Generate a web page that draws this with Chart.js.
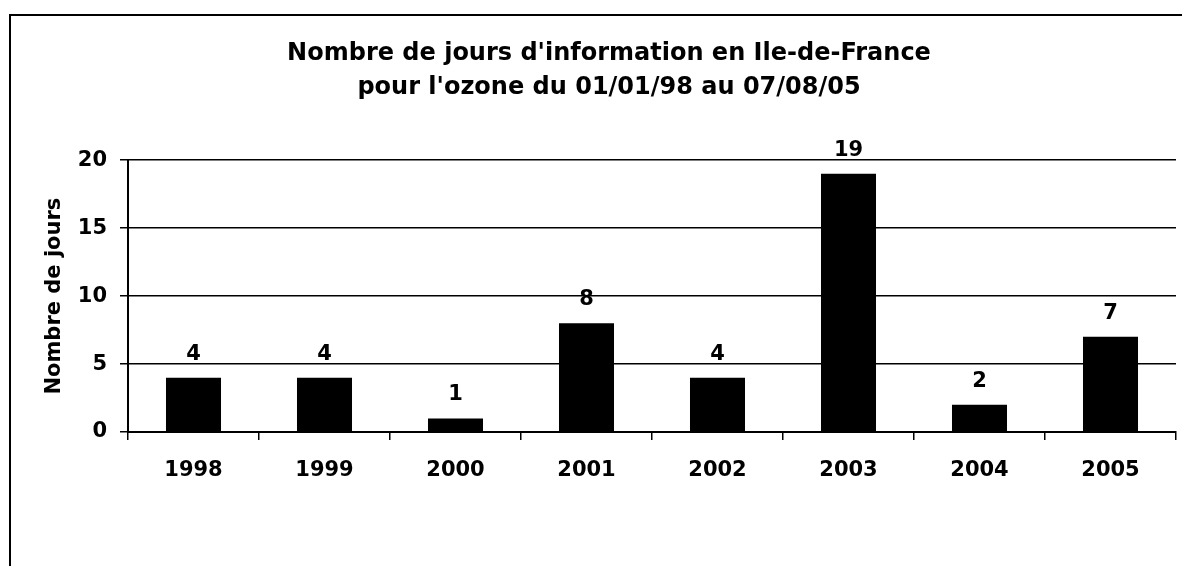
<!DOCTYPE html>
<html>
<head>
<meta charset="utf-8">
<script src="https://cdn.jsdelivr.net/npm/chart.js@4/dist/chart.umd.min.js"></script>
<style>
  html, body { margin: 0; padding: 0; background: #ffffff; }
  #wrap { width: 1182px; height: 566px; }
</style>
</head>
<body>
<div id="wrap"><canvas id="c" width="1182" height="566"></canvas></div>
<script>
const titleLines = ["Nombre de jours d'information en Ile-de-France", "pour l'ozone du 01/01/98 au 07/08/05"];
const yAxisTitle = "Nombre de jours";
const years = ["1998", "1999", "2000", "2001", "2002", "2003", "2004", "2005"];
const daysCount = [4, 4, 1, 8, 4, 19, 2, 7];
const yTicks = [0, 5, 10, 15, 20];

const FONT = "'DejaVu Sans', sans-serif";

const frame = {
  id: 'frame',
  beforeDraw(chart) {
    const ctx = chart.ctx;
    ctx.save();
    ctx.fillStyle = '#ffffff';
    ctx.fillRect(0, 0, chart.width, chart.height);
    ctx.strokeStyle = '#000000';
    ctx.lineWidth = 2;
    ctx.strokeRect(10, 15, chart.width + 20, chart.height + 20);
    ctx.restore();
  }
};

const valueLabels = {
  id: 'valueLabels',
  afterDatasetsDraw(chart) {
    const ctx = chart.ctx;
    const meta = chart.getDatasetMeta(0);
    const data = chart.data.datasets[0].data;
    ctx.save();
    ctx.fillStyle = '#000000';
    ctx.font = "bold 21px " + FONT;
    ctx.textAlign = 'center';
    ctx.textBaseline = 'alphabetic';
    meta.data.forEach((bar, i) => {
      ctx.fillText(String(data[i]), bar.x, bar.y - 18);
    });
    ctx.restore();
  }
};

new Chart(document.getElementById('c'), {
  type: 'bar',
  data: {
    labels: years,
    datasets: [{
      data: daysCount,
      backgroundColor: '#000000',
      borderWidth: 0,
      barPercentage: 0.42,
      categoryPercentage: 1.0
    }]
  },
  options: {
    responsive: false,
    animation: false,
    devicePixelRatio: 1,
    layout: { padding: { left: 42, right: 6, top: 0, bottom: 81 } },
    plugins: {
      legend: { display: false },
      tooltip: { enabled: false },
      title: {
        display: true,
        text: titleLines,
        color: '#000000',
        font: { family: FONT, size: 24, weight: 'bold', lineHeight: 1.4 },
        padding: { top: 37, bottom: 56 }
      }
    },
    scales: {
      x: {
        offset: true,
        afterFit(scale) { scale.height = 53; },
        grid: {
          display: true,
          offset: true,
          drawOnChartArea: false,
          drawTicks: true,
          tickLength: 8,
          color: '#000000',
          lineWidth: 1.5
        },
        border: { display: true, color: '#000000', width: 2 },
        ticks: {
          color: '#000000',
          padding: 18,
          maxRotation: 0,
          font: { family: FONT, size: 21, weight: 'bold' }
        }
      },
      y: {
        min: 0,
        max: 20,
        afterFit(scale) { scale.width = 86; },
        afterBuildTicks(scale) { scale.ticks = yTicks.map(v => ({ value: v })); },
        grid: {
          display: true,
          drawOnChartArea: true,
          drawTicks: true,
          tickLength: 8,
          color: '#000000',
          lineWidth: 1.5
        },
        border: { display: true, color: '#000000', width: 2 },
        ticks: {
          color: '#000000',
          padding: 13,
          font: { family: FONT, size: 21, weight: 'bold' }
        },
        title: {
          display: true,
          text: yAxisTitle,
          color: '#000000',
          padding: { top: 0, bottom: 0 },
          font: { family: FONT, size: 21, weight: 'bold' }
        }
      }
    }
  },
  plugins: [frame, valueLabels]
});
</script>
</body>
</html>
